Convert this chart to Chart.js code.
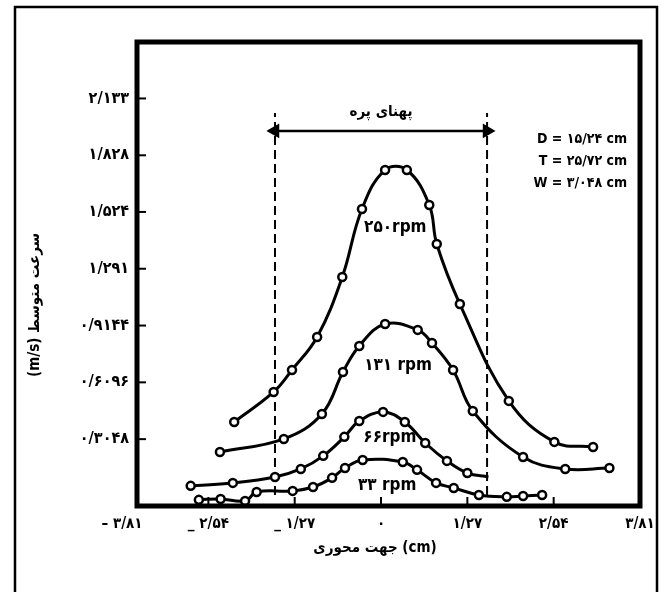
<!DOCTYPE html>
<html>
<head>
<meta charset="utf-8">
<script src="https://cdn.jsdelivr.net/npm/chart.js@4/dist/chart.umd.min.js"></script>
<style>
  html, body { margin: 0; padding: 0; background: #fff; }
  #wrap { width: 664px; height: 592px; position: relative; }
</style>
</head>
<body>
<div id="wrap"><canvas id="chart"></canvas></div>
<script>
// axial position (cm) / mean velocity (m/s)
const x250 = [-2.16, -1.58, -1.31, -0.94, -0.57, -0.28, 0.06, 0.38, 0.71, 0.82, 1.16, 1.88, 2.55, 3.12];
const v250 = [0.397, 0.558, 0.676, 0.853, 1.175, 1.540, 1.749, 1.749, 1.561, 1.352, 1.030, 0.510, 0.290, 0.263];

const x131 = [-2.37, -1.43, -0.87, -0.56, -0.32, 0.06, 0.54, 0.75, 1.06, 1.35, 2.09, 2.71, 3.36];
const v131 = [0.236, 0.306, 0.440, 0.665, 0.805, 0.923, 0.891, 0.821, 0.676, 0.456, 0.209, 0.145, 0.150];

const x66 = [-2.80, -2.18, -1.56, -1.18, -0.85, -0.54, -0.32, 0.03, 0.35, 0.65, 0.97, 1.27, 1.58];
const v66 = [0.054, 0.070, 0.102, 0.145, 0.215, 0.317, 0.402, 0.451, 0.397, 0.284, 0.188, 0.123, 0.102];

const x33 = [-2.68, -2.36, -2.00, -1.83, -1.30, -1.00, -0.72, -0.53, -0.27, 0.32, 0.53, 0.81, 1.07, 1.44, 1.85, 2.09, 2.37];
const v33 = [-0.021, -0.016, -0.027, 0.021, 0.027, 0.048, 0.097, 0.150, 0.193, 0.182, 0.140, 0.070, 0.043, 0.005, -0.005, 0.000, 0.005];

// impeller width (dashed limits) and arrow
const bladeEdges = [-1.56, 1.56];
const bladeTop = 2.055;
const bladeBottom = 0.005;
const arrowLevel = 1.959;

const yTickValues = [0.3048, 0.6096, 0.9144, 1.2192, 1.524, 1.828, 2.133];
const yTickLabels = ['۰/۳۰۴۸', '۰/۶۰۹۶', '۰/۹۱۴۴', '۱/۲۹۱', '۱/۵۲۴', '۱/۸۲۸', '۲/۱۳۳'];
const xTickValues = [-3.81, -2.54, -1.27, 0, 1.27, 2.54, 3.81];
const xTickLabels = ['– ۳/۸۱', '_ ۲/۵۴', '_ ۱/۲۷', '۰', '۱/۲۷', '۲/۵۴', '۳/۸۱'];

const FONT = "'DejaVu Sans Condensed', 'DejaVu Sans', sans-serif";

function pts(xs, ys) {
    return xs.map((x, i) => ({ x: x, y: ys[i] }));
}

function curve(xs, ys, hideLast) {
    return {
        data: pts(xs, ys),
        borderColor: '#000',
        borderWidth: 3,
        tension: 0.4,
        pointRadius: (c) => (hideLast && c.dataIndex === xs.length - 1 ? 0 : 4),
        pointBorderWidth: 2.5,
        pointBackgroundColor: '#fff',
        pointBorderColor: '#000',
    };
}

function dashed(x) {
    return {
        data: [{ x: x, y: bladeBottom }, { x: x, y: bladeTop }],
        borderColor: '#000',
        borderWidth: 2,
        borderDash: [9, 5],
        pointRadius: 0,
    };
}

const decor = {
    id: 'decor',
    afterDraw(chart) {
        const { ctx, chartArea: a, scales: { x, y } } = chart;
        const line = (x1, y1, x2, y2) => {
            ctx.beginPath();
            ctx.moveTo(x1, y1);
            ctx.lineTo(x2, y2);
            ctx.stroke();
        };
        ctx.save();
        ctx.strokeStyle = '#000';
        ctx.fillStyle = '#000';

        // outer frame
        ctx.lineWidth = 2.5;
        ctx.beginPath();
        ctx.moveTo(15, 600);
        ctx.lineTo(15, 7);
        ctx.lineTo(657, 7);
        ctx.lineTo(657, 600);
        ctx.stroke();

        // plot box
        ctx.lineWidth = 5;
        ctx.strokeRect(a.left, a.top, a.right - a.left, a.bottom - a.top);

        // tick marks
        ctx.lineWidth = 2;
        yTickValues.forEach((v) => {
            const py = y.getPixelForValue(v);
            line(a.left, py, a.left + 9, py);
        });
        xTickValues.forEach((v) => {
            const px = x.getPixelForValue(v);
            if (px > a.left + 4 && px < a.right - 4) line(px, a.bottom, px, a.bottom - 9);
        });

        // x tick labels
        ctx.font = 'bold 15px ' + FONT;
        ctx.textAlign = 'center';
        ctx.textBaseline = 'middle';
        xTickValues.forEach((v, i) => {
            ctx.fillText(xTickLabels[i], x.getPixelForValue(v), 524);
        });

        // axis titles
        ctx.fillText('جهت محوری (cm)', 375, 548);
        ctx.save();
        ctx.translate(35, 305);
        ctx.rotate(-Math.PI / 2);
        ctx.fillText('(m/s) سرعت متوسط', 0, 0);
        ctx.restore();

        // blade width caption
        ctx.font = 'bold 15px ' + FONT;
        ctx.fillText('پهنای پره', x.getPixelForValue(0), y.getPixelForValue(2.06));

        // curve labels
        ctx.font = 'bold 17px ' + FONT;
        ctx.fillText('۲۵۰rpm', x.getPixelForValue(0.21), y.getPixelForValue(1.438));
        ctx.fillText('۱۳۱ rpm', x.getPixelForValue(0.25), y.getPixelForValue(0.698));
        ctx.fillText('۶۶rpm', x.getPixelForValue(0.13), y.getPixelForValue(0.311));
        ctx.fillText('۳۳ rpm', x.getPixelForValue(0.09), y.getPixelForValue(0.054));

        // geometry note
        ctx.font = 'bold 14px ' + FONT;
        ctx.textAlign = 'right';
        const gx = x.getPixelForValue(3.62);
        ctx.fillText('D = ۱۵/۲۴ cm', gx, y.getPixelForValue(1.916));
        ctx.fillText('T = ۲۵/۷۲ cm', gx, y.getPixelForValue(1.798));
        ctx.fillText('W = ۳/۰۴۸ cm', gx, y.getPixelForValue(1.680));
        ctx.restore();
    }
};

new Chart(document.getElementById('chart'), {
    type: 'line',
    data: {
        datasets: [
            curve(x250, v250, false),
            curve(x131, v131, false),
            curve(x66, v66, true),
            curve(x33, v33, false),
            dashed(bladeEdges[0]),
            dashed(bladeEdges[1]),
            {
                data: bladeEdges.map((x) => ({ x: x, y: arrowLevel })),
                borderColor: '#000',
                borderWidth: 2.5,
                pointStyle: 'triangle',
                pointRadius: 6,
                pointRotation: [270, 90],
                pointBackgroundColor: '#000',
                pointBorderColor: '#000',
            },
        ],
    },
    options: {
        responsive: true,
        maintainAspectRatio: false,
        animation: false,
        layout: { padding: { top: 42, right: 24, left: 0, bottom: 0 } },
        plugins: {
            legend: { display: false },
            tooltip: { enabled: false },
        },
        scales: {
            x: {
                type: 'linear',
                min: -3.59,
                max: 3.81,
                afterFit: (s) => { s.height = 86; },
                grid: { display: false, drawTicks: false },
                border: { display: false },
                ticks: { display: false },
            },
            y: {
                type: 'linear',
                min: -0.054,
                max: 2.436,
                afterBuildTicks: (s) => { s.ticks = yTickValues.map((v) => ({ value: v })); },
                afterFit: (s) => { s.width = 137; },
                grid: { display: false, drawTicks: false },
                border: { display: false },
                ticks: {
                    padding: 8,
                    color: '#000',
                    font: { family: FONT, size: 16, weight: 'bold' },
                    callback: (v, i) => yTickLabels[i],
                },
            },
        },
    },
    plugins: [decor],
});
</script>
</body>
</html>
